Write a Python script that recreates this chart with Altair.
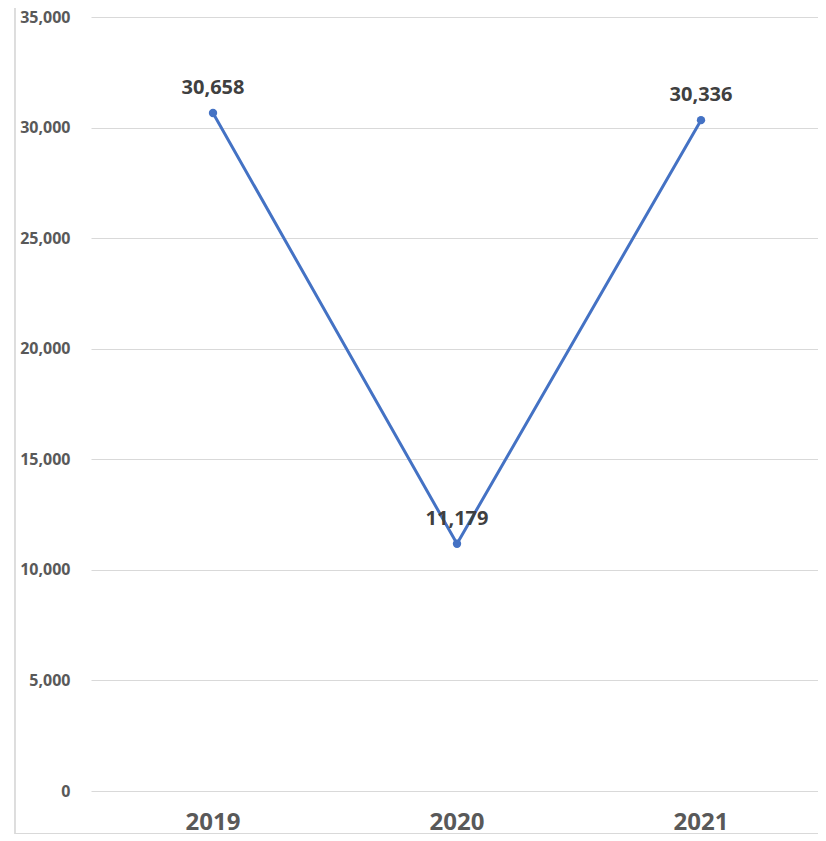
import altair as alt
import pandas as pd

years = ["2019", "2020", "2021"]
values = [30658, 11179, 30336]

df = pd.DataFrame({"year": years, "value": values})

W, H = 727, 774

x = alt.X("year:N", sort=years, title=None,
          scale=alt.Scale(type="band", paddingInner=0, paddingOuter=0, range=[0, 732]),
          axis=alt.Axis(labelAngle=0, labelFontSize=24, labelFontWeight="bold",
                        labelColor="#595959", labelFont="Open Sans", ticks=False,
                        domain=False, labelPadding=19, grid=False))
y = alt.Y("value:Q", title=None,
          scale=alt.Scale(domain=[0, 35000], nice=False, zero=True),
          axis=alt.Axis(values=[0, 5000, 10000, 15000, 20000, 25000, 30000, 35000],
                        format=",d", labelFontSize=16, labelFontWeight="bold",
                        labelColor="#595959", labelFont="Open Sans", ticks=False,
                        domain=False, labelPadding=21, grid=True,
                        gridColor="#d9d9d9", gridWidth=1))

base = alt.Chart(df)

line = base.mark_line(color="#4472C4", strokeWidth=3).encode(x=x, y=y)
pts = base.mark_point(filled=True, color="#4472C4", size=70, opacity=1).encode(x=x, y=y)
labels = base.mark_text(dy=-25, fontSize=20, fontWeight="bold", color="#404040",
                        font="Open Sans").encode(
    x=x, y=y, text=alt.Text("value:Q", format=",d"))

border_left = alt.Chart(df).mark_rule(color="#d9d9d9", strokeWidth=1).encode(
    x=alt.value(-76), y=alt.value(-20), y2=alt.value(817))
border_bottom = alt.Chart(df).mark_rule(color="#d9d9d9", strokeWidth=1).encode(
    x=alt.value(-76), x2=alt.value(740), y=alt.value(816.5))

chart = alt.layer(border_left, border_bottom, line, pts, labels).properties(
    width=W, height=H,
    autosize=alt.AutoSizeParams(type="none"),
    padding={"left": 83, "top": 9, "right": 0, "bottom": 50},
).configure_view(stroke=None)

chart.save("out.html", embed_options={"renderer": "svg", "actions": False})
